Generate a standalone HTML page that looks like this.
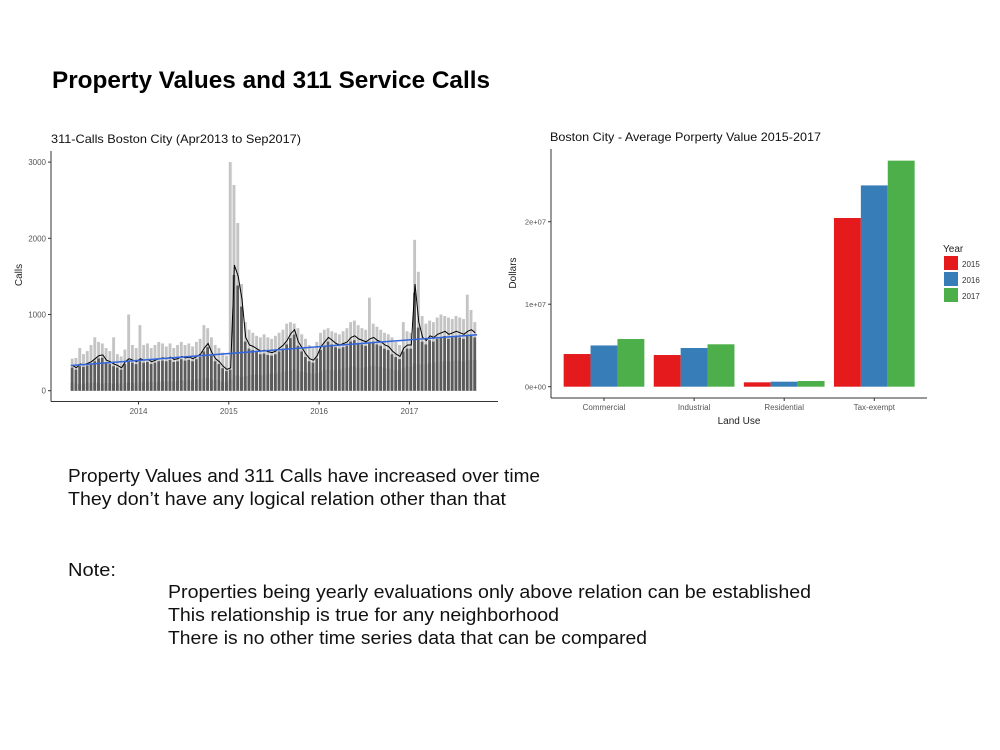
<!DOCTYPE html>
<html><head><meta charset="utf-8">
<style>
body{margin:0;background:#fff;}
svg{display:block;font-family:"Liberation Sans",Arial,sans-serif;}
</style></head>
<body>
<svg id="page" width="1000" height="750" viewBox="0 0 1000 750">
<text x="52" y="88" font-size="24" font-weight="bold" textLength="438" lengthAdjust="spacingAndGlyphs">Property Values and 311 Service Calls</text>

<g id="calls">
 <text x="51" y="143" font-size="12" fill="#111" textLength="250" lengthAdjust="spacingAndGlyphs">311-Calls Boston City (Apr2013 to Sep2017)</text>
 <text transform="translate(22,275) rotate(-90)" font-size="10" fill="#222" text-anchor="middle">Calls</text>
</g>

<g id="prop">
 <text x="550" y="141" font-size="12" fill="#111" textLength="271" lengthAdjust="spacingAndGlyphs">Boston City - Average Porperty Value 2015-2017</text>
 <text transform="translate(516,273) rotate(-90)" font-size="10" fill="#222" text-anchor="middle">Dollars</text>
 <text x="739" y="424" font-size="10" fill="#222" text-anchor="middle">Land Use</text>
 <text x="943" y="252" font-size="10" fill="#222">Year</text>
</g>

<g font-size="18" fill="#111">
 <text x="68" y="482" textLength="472" lengthAdjust="spacingAndGlyphs">Property Values and 311 Calls have increased over time</text>
 <text x="68" y="505" textLength="438" lengthAdjust="spacingAndGlyphs">They don’t have any logical relation other than that</text>
 <text x="68" y="576" textLength="48" lengthAdjust="spacingAndGlyphs">Note:</text>
 <text x="168" y="598" textLength="643" lengthAdjust="spacingAndGlyphs">Properties being yearly evaluations  only above relation  can be established</text>
 <text x="168" y="621" textLength="391" lengthAdjust="spacingAndGlyphs">This relationship is true for any neighborhood</text>
 <text x="168" y="644" textLength="479" lengthAdjust="spacingAndGlyphs">There is no other time series data that can be compared</text>
</g>
</svg>
<script>
// ---------- Calls chart data (half-monthly, Apr 2013 – Sep 2017) ----------
const callsStartYear = 2013.25;
const callsStep = 1/24;
const callsMean = [330,300,350,340,360,380,420,460,470,400,380,350,330,300,380,420,400,380,
 420,400,410,380,400,420,430,420,440,410,420,450,430,440,420,450,480,560,620,500,420,380,320,280,
 300,1650,1500,1200,700,600,580,550,520,530,510,500,520,560,600,660,750,800,640,560,480,420,400,460,
 580,640,700,660,620,600,620,640,700,720,680,660,640,680,700,660,640,600,580,520,480,450,560,600,
 600,1400,900,700,660,720,700,740,760,780,740,760,780,760,740,780,800,760];
const callsMax = [420,430,560,480,520,600,700,640,620,560,520,700,480,450,540,1000,600,560,
 860,600,620,560,600,640,620,580,620,560,600,640,600,620,580,640,680,860,820,700,600,560,500,460,
 3000,2700,2200,1400,900,800,760,720,700,740,700,680,720,760,800,880,900,880,820,740,680,600,560,640,
 760,800,820,780,760,740,780,820,900,920,860,820,800,1220,880,840,800,760,740,700,640,600,900,780,
 760,1980,1560,980,880,920,900,960,1000,980,960,940,980,960,940,1260,1060,900];
const callsLow = [100,90,80,90,100,100,110,100,90,100,100,90,100,90,100,110,100,100,
 120,110,110,120,110,120,130,120,130,120,130,140,130,140,130,150,150,160,170,150,140,130,120,110,
 150,200,200,180,190,200,210,220,200,210,220,230,220,240,250,260,270,280,260,250,240,230,220,230,
 250,270,280,270,260,270,290,300,310,320,300,300,310,320,330,320,310,300,290,280,270,260,300,320,
 320,360,350,340,350,360,370,380,380,390,380,390,400,390,380,400,410,400];
const trendEnds = [330, 735];
const callsYTicks = [0,1000,2000,3000];
const callsXTicks = [2014,2015,2016,2017];

// ---------- Property chart data ----------
const landUse = ["Commercial","Industrial","Residential","Tax-exempt"];
const years = ["2015","2016","2017"];
const val2015 = [3.96e6,3.84e6,0.53e6,20.45e6];
const val2016 = [5.0e6,4.69e6,0.61e6,24.4e6];
const val2017 = [5.78e6,5.14e6,0.69e6,27.4e6];
const propYTicks = [0,1e7,2e7];
const propYTickLabels = ["0e+00","1e+07","2e+07"];
const yearColors = ["#e41a1c","#377eb8","#4daf4a"];

const NS="http://www.w3.org/2000/svg";
function mk(tag, attrs, parent){const e=document.createElementNS(NS,tag);for(const k in attrs)e.setAttribute(k,attrs[k]);parent.appendChild(e);return e;}

// ---- calls chart
(function(){
 const g=document.getElementById('calls');
 const xs=t=>138.5+(t-2014)*90.3;
 const ys=v=>390.7-v*0.0762;
 mk('line',{x1:51,y1:151,x2:51,y2:401.5,stroke:'#333','stroke-width':1},g);
 mk('line',{x1:51,y1:401.5,x2:498,y2:401.5,stroke:'#333','stroke-width':1},g);
 callsYTicks.forEach(v=>{
  const l=mk('line',{x1:48,x2:51,y1:ys(v),y2:ys(v),stroke:'#333'},g);
  
  const t=mk('text',{x:46,y:ys(v)+3,'font-size':8,fill:'#555','text-anchor':'end'},g);t.textContent=v;
  
 });
 callsXTicks.forEach(v=>{
  const l=mk('line',{x1:xs(v),x2:xs(v),y1:401.5,y2:404.5,stroke:'#333'},g);
  
  const t=mk('text',{x:xs(v),y:414,'font-size':8,fill:'#555','text-anchor':'middle'},g);t.textContent=v;
  
 });
 const w=90.3*callsStep;
 callsMax.forEach((v,i)=>{
  const x=xs(callsStartYear+i*callsStep);
  const b=mk('rect',{x:x,y:ys(v),width:w-0.4,height:ys(0)-ys(v),fill:'#c4c4c4'},g);
  
  
  const m=Math.max(callsLow[i],callsMean[i]*0.92);
  const d=mk('rect',{x:x,y:ys(m),width:w*0.75,height:ys(0)-ys(m),fill:'#5c5c5c'},g);
  
  
  const lo=mk('rect',{x:x,y:ys(callsLow[i]),width:w-0.4,height:ys(0)-ys(callsLow[i]),fill:'#5a5a5a'},g);
  
  
  const gap=mk('rect',{x:x+w-0.9,y:ys(v),width:0.7,height:ys(0)-ys(v),fill:'#fff'},g);
  
  
 });
 const pts=callsMean.map((v,i)=>xs(callsStartYear+i*callsStep+callsStep/2).toFixed(1)+','+ys(v).toFixed(1)).join(' ');
 const pl=mk('polyline',{points:pts,fill:'none',stroke:'#000','stroke-width':1},g);
 
 
 const tEnd=callsStartYear+callsMean.length*callsStep;
 const tl=mk('line',{x1:xs(callsStartYear),y1:ys(trendEnds[0]),x2:xs(tEnd),y2:ys(trendEnds[1]),stroke:'#3366dd','stroke-width':1.5},g);
 
 
})();

// ---- property chart
(function(){
 const g=document.getElementById('prop');
 const ys=v=>386.7-v*8.25e-6;
 const gx=i=>604+i*90.1;
 const bw=26.9;
 mk('line',{x1:551,y1:149,x2:551,y2:398,stroke:'#333'},g);
 mk('line',{x1:551,y1:398,x2:927,y2:398,stroke:'#333'},g);
 propYTicks.forEach((v,i)=>{
  const l=mk('line',{x1:548,x2:551,y1:ys(v),y2:ys(v),stroke:'#333'},g);
  
  const t=mk('text',{x:546,y:ys(v)+3,'font-size':7.5,fill:'#555','text-anchor':'end'},g);t.textContent=propYTickLabels[i];
  
 });
 const series=[val2015,val2016,val2017];
 landUse.forEach((c,i)=>{
  const l=mk('line',{x1:gx(i),x2:gx(i),y1:398,y2:401,stroke:'#333'},g);
  
  const t=mk('text',{x:gx(i),y:410,'font-size':8,fill:'#555','text-anchor':'middle'},g);t.textContent=c;
  
  series.forEach((s,k)=>{
   const b=mk('rect',{x:gx(i)+(k-1.5)*bw,y:ys(s[i]),width:bw,height:ys(0)-ys(s[i]),fill:yearColors[k]},g);
   
   
  });
 });
 years.forEach((y,k)=>{
  const r=mk('rect',{x:944,y:256+k*16,width:14,height:14,fill:yearColors[k]},g);
  
  
  const t=mk('text',{x:962,y:267+k*16,'font-size':8,fill:'#333'},g);t.textContent=y;
  
  
 });
})();
</script>
</body></html>
